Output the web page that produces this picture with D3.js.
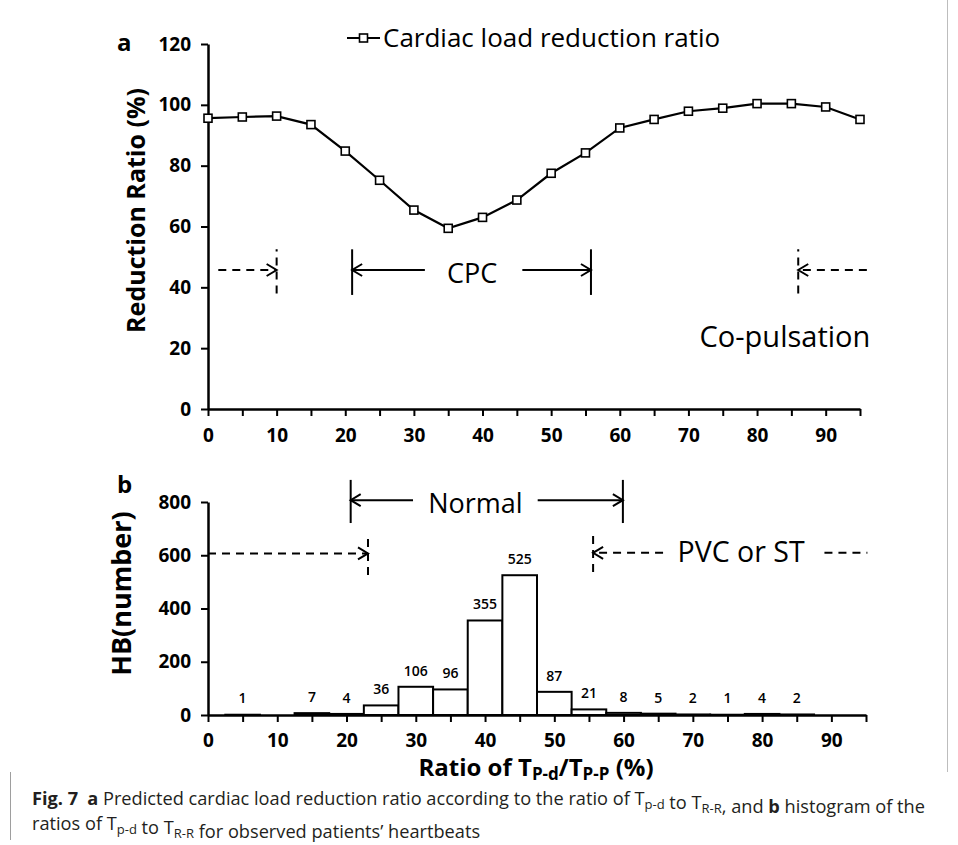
<!DOCTYPE html>
<html>
<head>
<meta charset="utf-8">
<script src="https://cdn.jsdelivr.net/npm/d3@7"></script>
<style>
  body { margin: 0; background: #fff; }
  svg text { font-family: "Open Sans", "Noto Sans", sans-serif; }
</style>
</head>
<body>
<div id="chart"></div>
<script>
// panel a: predicted reduction ratio vs Tp-d/TR-R
const ratioX = d3.range(0, 96, 5);
const reductionRatio = [95.6, 96.0, 96.3, 93.5, 84.8, 75.2, 65.4, 59.4, 63.0, 68.7,
                        77.5, 84.2, 92.4, 95.2, 97.9, 98.9, 100.4, 100.4, 99.3, 95.2];
const topYTicks = [0, 20, 40, 60, 80, 100, 120];

// panel b: histogram of heartbeats
const binCenters = [5, 10, 15, 20, 25, 30, 35, 40, 45, 50, 55, 60, 65, 70, 75, 80, 85];
const binCounts  = [1, 0, 7, 4, 36, 106, 96, 355, 525, 87, 21, 8, 5, 2, 1, 4, 2];
const bottomYTicks = [0, 200, 400, 600, 800];
const xTicks = d3.range(0, 96, 5);

const W = 958, H = 845;
const svg = d3.select("#chart").append("svg")
  .attr("width", W).attr("height", H);

// figure frame (right edge) + caption bar
svg.append("line").attr("x1", 947.5).attr("x2", 947.5).attr("y1", 0).attr("y2", 772)
  .attr("stroke", "#bdbdbd").attr("stroke-width", 1);
svg.append("line").attr("x1", 10.5).attr("x2", 10.5).attr("y1", 772).attr("y2", 840)
  .attr("stroke", "#9e9e9e").attr("stroke-width", 1);

// scales
const xa = d3.scaleLinear().domain([0, 95]).range([208, 860]);
const ya = d3.scaleLinear().domain([0, 120]).range([409, 44]);
const xb = d3.scaleLinear().domain([0, 95]).range([208, 866]);
const yb = d3.scaleLinear().domain([0, 800]).range([715, 502]);

function styleAxis(g) {
  g.select(".domain").attr("stroke", "#000").attr("stroke-width", 2.5);
  g.selectAll(".tick line").attr("stroke", "#000").attr("stroke-width", 2);
  g.selectAll(".tick text").style("font-size", "19px").style("font-weight", "700").attr("fill", "#000");
}

// ---------- panel a ----------
svg.append("g").attr("transform", "translate(0,409)")
  .call(d3.axisBottom(xa).tickValues(xTicks).tickFormat(d => d % 10 === 0 ? d : "")
        .tickSize(7).tickSizeOuter(0).tickPadding(13))
  .call(styleAxis);

svg.append("g").attr("transform", "translate(208,0)")
  .call(d3.axisLeft(ya).tickValues(topYTicks).tickSize(7).tickSizeOuter(0).tickPadding(10))
  .call(styleAxis);

const line = d3.line().x((d, i) => xa(ratioX[i])).y(d => ya(d));
svg.append("path").datum(reductionRatio)
  .attr("d", line).attr("fill", "none").attr("stroke", "#000").attr("stroke-width", 2.2);

svg.selectAll(".marker").data(reductionRatio).enter().append("rect")
  .attr("class", "marker")
  .attr("x", (d, i) => xa(ratioX[i]) - 4).attr("y", d => ya(d) - 4)
  .attr("width", 8).attr("height", 8)
  .attr("fill", "#fff").attr("stroke", "#000").attr("stroke-width", 1.6);

// legend
const lg = svg.append("g").attr("transform", "translate(347,38)");
lg.append("line").attr("x1", 0).attr("x2", 33).attr("stroke", "#000").attr("stroke-width", 2.2);
lg.append("rect").attr("x", 12.5).attr("y", -4).attr("width", 8).attr("height", 8)
  .attr("fill", "#fff").attr("stroke", "#000").attr("stroke-width", 1.6);
lg.append("text").attr("x", 36).attr("y", 9).style("font-size", "26px")
  .text("Cardiac load reduction ratio");

svg.append("text").attr("x", 117).attr("y", 51).style("font-size", "24px").style("font-weight", "700")
  .text("a");
svg.append("text").attr("transform", `translate(145,${(ya(0) + ya(120)) / 2 - 16}) rotate(-90)`)
  .attr("text-anchor", "middle").style("font-size", "25px").style("font-weight", "700")
  .text("Reduction Ratio (%)");

// annotation helpers
function vline(x, y, x0, y0, y1, dashed) {
  svg.append("line").attr("x1", x(x0)).attr("x2", x(x0)).attr("y1", y(y0)).attr("y2", y(y1))
    .attr("stroke", "#000").attr("stroke-width", 2)
    .attr("stroke-dasharray", dashed ? "8,6" : null);
}
function arrow(x, y, from, to, yv, dashed) {
  const py = y(yv);
  svg.append("line").attr("x1", x(from)).attr("x2", x(to)).attr("y1", py).attr("y2", py)
    .attr("stroke", "#000").attr("stroke-width", 2)
    .attr("stroke-dasharray", dashed ? "8,6" : null);
  const tip = x(to), dir = to > from ? -1 : 1;
  svg.append("path")
    .attr("d", `M${tip + dir * 10},${py - 6}L${tip},${py}L${tip + dir * 10},${py + 6}`)
    .attr("fill", "none").attr("stroke", "#000").attr("stroke-width", 2);
}
function label(x, y, xv, yv, txt, anchor, size) {
  svg.append("text").attr("x", x(xv)).attr("y", y(yv)).attr("text-anchor", anchor)
    .style("font-size", size + "px").text(txt);
}

// CPC / co-pulsation annotations (data units)
vline(xa, ya, 10, 38, 52.5, true);
arrow(xa, ya, 1.5, 10, 45.7, true);
vline(xa, ya, 21, 37.5, 52.5, false);
arrow(xa, ya, 31.6, 21, 45.7, false);
label(xa, ya, 38.5, 41.3, "CPC", "middle", 27);
arrow(xa, ya, 45.8, 55.8, 45.7, false);
vline(xa, ya, 55.8, 37.5, 52.5, false);
vline(xa, ya, 86, 38, 52.5, true);
arrow(xa, ya, 96, 86, 45.7, true);
label(xa, ya, 96.5, 20.5, "Co-pulsation", "end", 29);

// ---------- panel b ----------
svg.append("g").attr("transform", "translate(0,715)")
  .call(d3.axisBottom(xb).tickValues(xTicks).tickFormat(d => d % 10 === 0 ? d : "")
        .tickSize(7).tickSizeOuter(0).tickPadding(12))
  .call(styleAxis);

svg.append("g").attr("transform", "translate(208,0)")
  .call(d3.axisLeft(yb).tickValues(bottomYTicks).tickSize(7).tickSizeOuter(0).tickPadding(10))
  .call(styleAxis);

svg.selectAll(".bar").data(binCounts).enter().append("rect")
  .attr("class", "bar")
  .attr("x", (d, i) => xb(binCenters[i] - 2.5))
  .attr("y", d => yb(d))
  .attr("width", (d, i) => xb(binCenters[i] + 2.5) - xb(binCenters[i] - 2.5))
  .attr("height", d => yb(0) - yb(d))
  .attr("fill", "#fff").attr("stroke", "#000").attr("stroke-width", 2)
  .style("display", d => d > 0 ? null : "none");

svg.selectAll(".bar-label").data(binCounts).enter().append("text")
  .attr("class", "bar-label")
  .attr("x", (d, i) => xb(binCenters[i]))
  .attr("y", d => Math.min(yb(d), 714) - 11)
  .attr("text-anchor", "middle")
  .style("font-size", "14px").style("font-weight", "600")
  .text(d => d > 0 ? d : "");

svg.append("text").attr("x", 117).attr("y", 493).style("font-size", "24px").style("font-weight", "700")
  .text("b");
svg.append("text").attr("transform", `translate(131,${(yb(0) + yb(800)) / 2 - 15}) rotate(-90)`)
  .attr("text-anchor", "middle").style("font-size", "27px").style("font-weight", "700")
  .text("HB(number)");

// x title with subscripts
const xt = svg.append("text").attr("x", 536).attr("y", 776).attr("text-anchor", "middle")
  .style("font-size", "24px").style("font-weight", "700");
xt.append("tspan").text("Ratio of T");
xt.append("tspan").attr("dy", 4).style("font-size", "17px").text("P-d");
xt.append("tspan").attr("dy", -4).text("/T");
xt.append("tspan").attr("dy", 4).style("font-size", "17px").text("P-P");
xt.append("tspan").attr("dy", -4).text(" (%)");

// Normal / PVC annotations
vline(xb, yb, 20.6, 721, 883, false);
arrow(xb, yb, 29.6, 20.6, 807, false);
label(xb, yb, 38.6, 759, "Normal", "middle", 27);
arrow(xb, yb, 47.6, 59.9, 807, false);
vline(xb, yb, 59.9, 721, 883, false);
arrow(xb, yb, 0, 23.1, 607, true);
vline(xb, yb, 23.1, 526, 680, true);
vline(xb, yb, 55.6, 537, 691, true);
arrow(xb, yb, 65.7, 55.6, 609, true);
label(xb, yb, 67.8, 575, "PVC or ST", "start", 28.5);
svg.append("line").attr("x1", xb(89)).attr("x2", xb(95.2)).attr("y1", yb(609)).attr("y2", yb(609))
  .attr("stroke", "#000").attr("stroke-width", 2).attr("stroke-dasharray", "8,6");

// ---------- caption ----------
const capColor = "#231f20";
function sub(t, s) {
  t.append("tspan").attr("dy", 4).style("font-size", "13px").text(s);
  t.append("tspan").attr("dy", -4).text("");
}
const c1 = svg.append("text").attr("x", 32).attr("y", 805).style("font-size", "18.2px").attr("fill", capColor);
c1.append("tspan").style("font-weight", "700").text("Fig. 7");
c1.append("tspan").text("\u2002");
c1.append("tspan").style("font-weight", "700").text("a");
c1.append("tspan").text(" Predicted cardiac load reduction ratio according to the ratio of T");
sub(c1, "p-d");
c1.append("tspan").text(" to T");
sub(c1, "R-R");
c1.append("tspan").text(", and ");
c1.append("tspan").style("font-weight", "700").text("b");
c1.append("tspan").text(" histogram of the");

const c2 = svg.append("text").attr("x", 32).attr("y", 830).style("font-size", "18.2px").attr("fill", capColor);
c2.append("tspan").text("ratios of T");
sub(c2, "p-d");
c2.append("tspan").text(" to T");
sub(c2, "R-R");
c2.append("tspan").text(" for observed patients\u2019 heartbeats");
</script>
</body>
</html>
